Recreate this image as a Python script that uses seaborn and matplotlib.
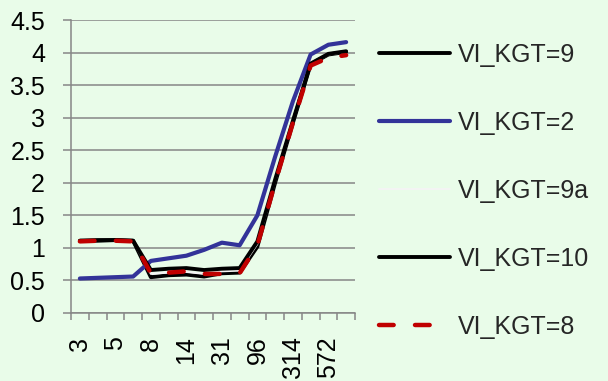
import numpy as np
import matplotlib
matplotlib.use("Agg")
import matplotlib.pyplot as plt
import seaborn as sns
from matplotlib.ticker import MultipleLocator, FixedLocator, FixedFormatter, FuncFormatter

# Category axis: 16 points, only every second one carries a printed label
positions = list(range(16))
tick_labels = ["3", "5", "8", "14", "31", "96", "314", "572"]

series_names = ["VI_KGT=9", "VI_KGT=2", "VI_KGT=9a", "VI_KGT=10", "VI_KGT=8"]

kgt_9 = [1.11, 1.11, 1.12, 1.11, 0.55, 0.58, 0.59, 0.56, 0.61, 0.62, 1.02, 2.00, 2.92, 3.82, 3.97, 4.01]
kgt_2 = [0.53, 0.54, 0.55, 0.56, 0.80, 0.84, 0.88, 0.97, 1.08, 1.04, 1.50, 2.40, 3.25, 3.97, 4.12, 4.16]
kgt_9a = [1.11, 1.11, 1.12, 1.11, 0.60, 0.62, 0.63, 0.60, 0.64, 0.65, 1.06, 2.02, 2.93, 3.82, 3.97, 4.01]
kgt_10 = [1.11, 1.12, 1.12, 1.11, 0.66, 0.68, 0.69, 0.66, 0.68, 0.69, 1.10, 2.05, 2.95, 3.83, 3.98, 4.02]
kgt_8 = [1.10, 1.11, 1.11, 1.10, 0.61, 0.62, 0.64, 0.60, 0.60, 0.61, 1.04, 2.00, 2.92, 3.80, 3.92, 3.96]

series_values = [kgt_9, kgt_2, kgt_9a, kgt_10, kgt_8]

sns.set_theme(style="white")
plt.rcParams["font.family"] = ["Liberation Sans", "DejaVu Sans"]

background = "#e9fce9"
grid_gray = "#868686"

fig = plt.figure(figsize=(6.08, 3.81), dpi=100, facecolor=background)
ax = fig.add_axes([71 / 608, 1 - 313 / 381, 284 / 608, 293 / 381])
ax.set_facecolor("none")

styles = {
    "VI_KGT=9": dict(color="black", linewidth=2.8),
    "VI_KGT=2": dict(color="#333399", linewidth=3.0),
    "VI_KGT=9a": dict(color="#f4f4f4", linewidth=1.4),
    "VI_KGT=10": dict(color="black", linewidth=2.8),
    "VI_KGT=8": dict(color="#c00000", linewidth=3.2,
                     linestyle=(0, (3.3, 4.8)), dash_capstyle="round"),
}

for name, values in zip(series_names, series_values):
    sns.lineplot(x=positions, y=values, ax=ax, label=name,
                 solid_capstyle="round", **styles[name])

ax.set_xlim(-0.5, 15.5)
ax.set_ylim(0, 4.5)

# y axis: gridlines every 0.5, outward ticks
ax.yaxis.set_major_locator(MultipleLocator(0.5))
ax.yaxis.set_major_formatter(FuncFormatter(lambda v, _: f"{v:g}"))
ax.grid(axis="y", color=grid_gray, linewidth=1.1)
ax.grid(axis="x", visible=False)
ax.set_axisbelow(True)
ax.tick_params(axis="y", which="major", left=True, length=5.8, width=1.1,
               color=grid_gray, pad=13, labelsize=18, labelcolor="black")

# x axis: tick marks between categories, labels on every second category
ax.xaxis.set_minor_locator(FixedLocator(np.arange(-0.5, 16, 1.0)))
ax.xaxis.set_major_locator(FixedLocator(positions[::2]))
ax.xaxis.set_major_formatter(FixedFormatter(tick_labels))
ax.tick_params(axis="x", which="minor", bottom=True, length=5, width=1.1, color=grid_gray)
ax.tick_params(axis="x", which="major", bottom=True, length=0, pad=17,
               labelsize=18, labelcolor="black", labelrotation=90)

for side in ("top", "right"):
    ax.spines[side].set_visible(False)
for side in ("left", "bottom"):
    ax.spines[side].set_color(grid_gray)
    ax.spines[side].set_linewidth(1.1)

ax.set_xlabel("")
ax.set_ylabel("")

ax.legend(loc="upper left", bbox_to_anchor=(379 / 608, 1 - 43 / 381),
          bbox_transform=fig.transFigure, frameon=False, fontsize=18,
          handlelength=2.85, handletextpad=0.3, labelspacing=1.76,
          borderpad=0, borderaxespad=0)

fig.savefig("out.png", dpi=100, facecolor=background)
